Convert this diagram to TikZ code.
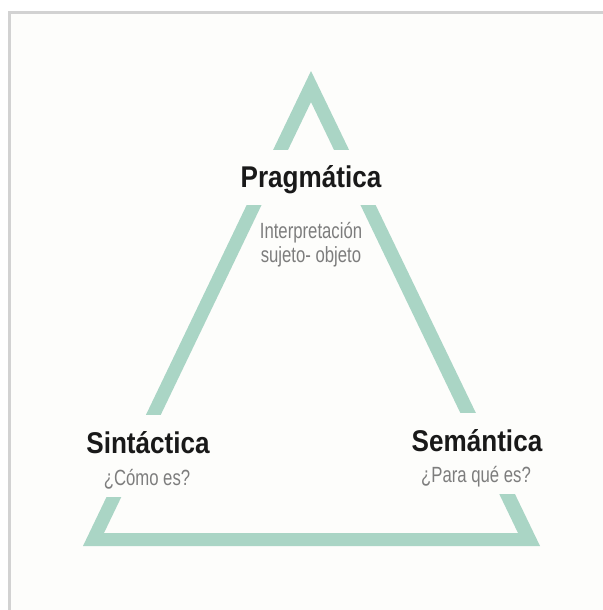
\documentclass[tikz,border=0pt]{standalone}
\usepackage{fontspec}
\setmainfont{Liberation Sans}
\newfontfamily\titlefont[FakeStretch=0.87]{Liberation Sans}
\newfontfamily\notefont[FakeStretch=0.76]{Liberation Sans}
\definecolor{mint}{RGB}{170,213,197}
\definecolor{paper}{RGB}{253,253,251}
\definecolor{framegray}{RGB}{210,210,210}
\definecolor{notegray}{RGB}{125,125,125}
\tikzset{
  title/.style={font=\titlefont\bfseries\fontsize{30}{30}\selectfont, text=black!90,
    fill=paper, inner xsep=4pt, inner ysep=0pt, anchor=base},
  note/.style={font=\notefont\fontsize{22}{24}\selectfont, text=notegray,
    inner sep=0pt, anchor=base}
}
\begin{document}
\begin{tikzpicture}[line join=miter,x=1pt,y=-1pt]
	\useasboundingbox (0,0) rectangle (602,610);
	\fill[paper] (9,13) rectangle (620,620);
	\draw[framegray,line width=3pt] (9,13) rectangle (620,620);
	\coordinate (top) at (311,71);
	\coordinate (left) at (83,546);
	\coordinate (right) at (540,546);
	\coordinate (itop) at (311,102);
	\coordinate (ileft) at (104,533);
	\coordinate (iright) at (518,533);
	\fill[mint,even odd rule]%band
	(top) -- (left) -- (right) -- cycle
	(itop) -- (ileft) -- (iright) -- cycle;

	\node[title,text height=37pt,text depth=18pt] (prag) at (311,187) {Pragmática};
	\node[note] (interp) at (311,238) {Interpretación};
	\node[note] (sujeto) at (311,262) {sujeto- objeto};

	\node[title,text height=38pt,text depth=44pt] (sint) at (148,453) {Sintáctica};
	\node[note] (como) at (147,485) {¿Cómo es?};

	\node[title,text height=38pt,text depth=43pt] (sem) at (477,451) {Semántica};
	\node[note] (para) at (476,482) {¿Para qué es?};
\end{tikzpicture}
\end{document}
